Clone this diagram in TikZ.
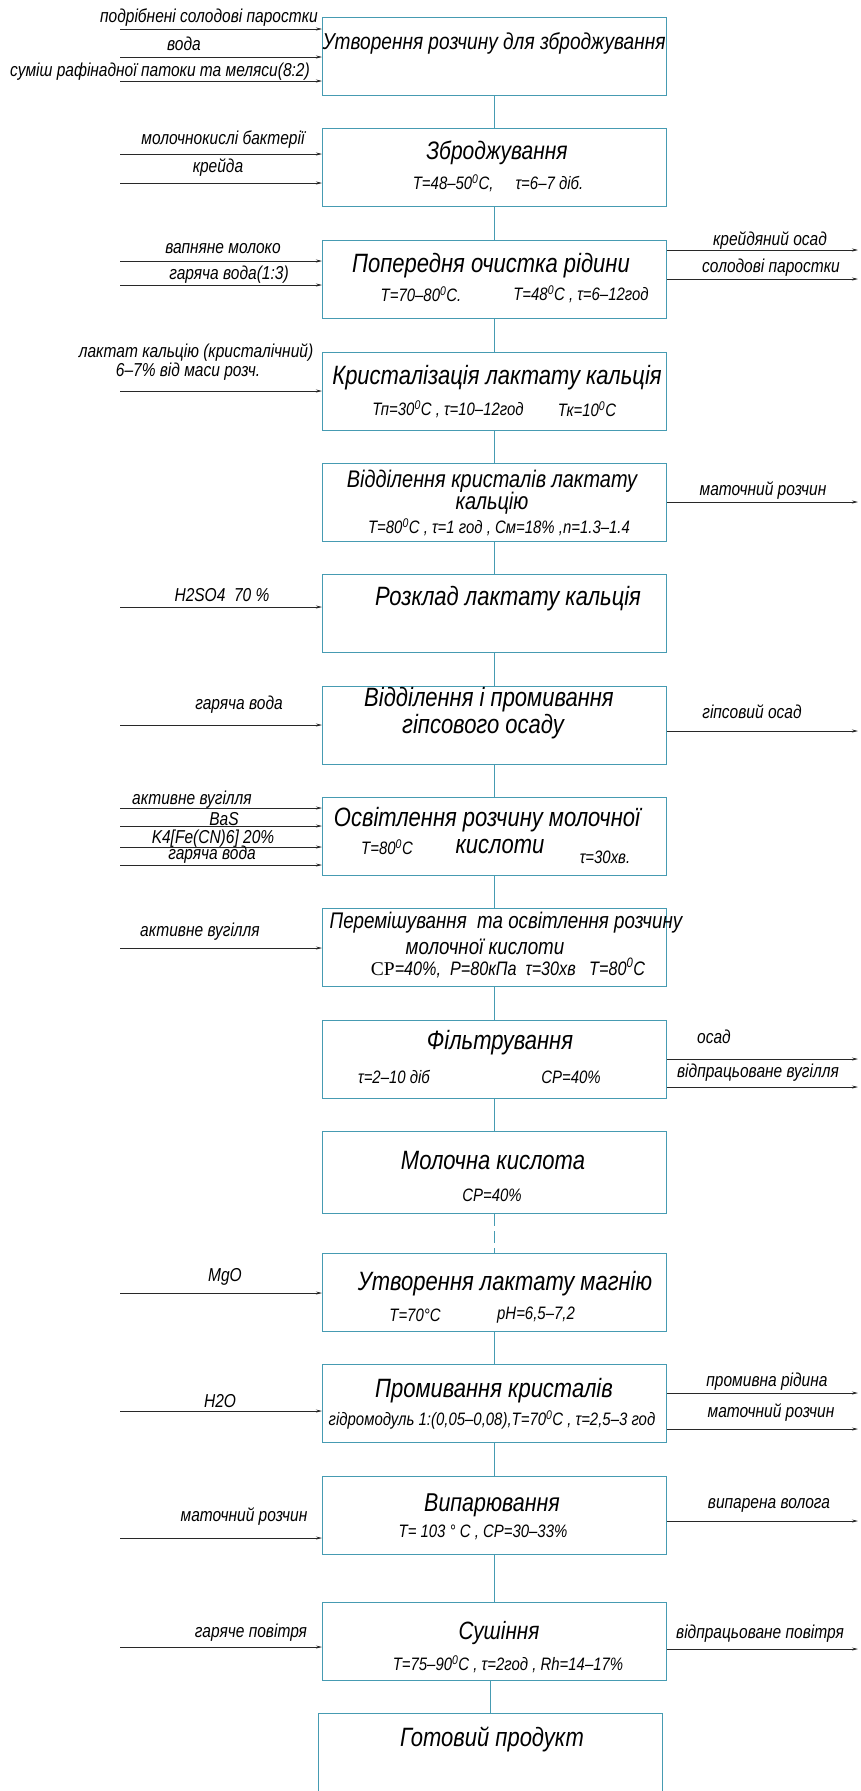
\documentclass[tikz,border=0pt]{standalone}
\usepackage{fontspec}
\setmainfont{Liberation Sans}[FakeStretch=0.83]
\newfontfamily\serifcp{Liberation Serif}
\usetikzlibrary{arrows.meta}
\definecolor{boxc}{RGB}{70,155,178}
\definecolor{arrc}{RGB}{40,40,40}
\newcommand{\fsz}[1]{\fontsize{#1}{#1}\selectfont\itshape}
\newcommand{\dg}{\textsuperscript{0}}
\begin{document}
\begin{tikzpicture}[x=1pt,y=-1pt,
  box/.style={draw=boxc, line width=1.3pt, minimum width=344pt, minimum height=78pt, inner sep=0pt, anchor=north west},
  ttl/.style={font=\fsz{26.5}, inner sep=0pt},
  lbl/.style={font=\fsz{18.7}, inner sep=0pt},
  prm/.style={font=\fsz{18}, inner sep=0pt},
  link/.style={draw=boxc, line width=1.1pt},
  arr/.style={draw=arrc, line width=0.7pt, -{Stealth[length=6pt,width=3pt]}}]
\useasboundingbox (0,0) rectangle (860,1791);
% boxes
\node[box] (b1) at (322,17) {};
\node[box] (b2) at (322,128) {};
\node[box] (b3) at (322,240) {};
\node[box] (b4) at (322,352) {};
\node[box] (b5) at (322,463) {};
\node[box] (b6) at (322,574) {};
\node[box] (b7) at (322,686) {};
\node[box] (b8) at (322,797) {};
\node[box] (b9) at (322,908) {};
\node[box] (b10) at (322,1020) {};
\node[box, minimum height=82pt] (b11) at (322,1131) {};
\node[box] (b12) at (322,1253) {};
\node[box] (b13) at (322,1364) {};
\node[box] (b14) at (322,1476) {};
\node[box] (b15) at (322,1602) {};
\node[box, minimum height=86pt] (b16) at (318,1713) {};
% connectors
\draw[link] (b1.south) -- (b2.north);
\draw[link] (b2.south) -- (b3.north);
\draw[link] (b3.south) -- (b4.north);
\draw[link] (b4.south) -- (b5.north);
\draw[link] (b5.south) -- (b6.north);
\draw[link] (b6.south) -- (b7.north);
\draw[link] (b7.south) -- (b8.north);
\draw[link] (b8.south) -- (b9.north);
\draw[link] (b9.south) -- (b10.north);
\draw[link] (b10.south) -- (b11.north);
\draw[link, dashed, dash pattern=on 12pt off 5pt] (b11.south) -- (b12.north);
\draw[link] (b12.south) -- (b13.north);
\draw[link] (b13.south) -- (b14.north);
\draw[link] (b14.south) -- (b15.north);
\draw[link] (b16.north) -- (b16.north |- b15.south);
% box texts
\node[ttl, font=\fsz{23}] (t1) at (494,43) {Утворення розчину для зброджування};
\node[ttl, font=\fsz{25.3}] (t2) at (497,153) {Зброджування};
\node[prm] (p2) at (498,183) {T=48–50\dg C,\quad\ τ=6–7 діб.};
\node[ttl] (t3) at (491,266) {Попередня очистка рідини};
\node[prm] (p3a) at (421,294) {T=70–80\dg C.};
\node[prm] (p3b) at (581,294) {T=48\dg C , τ=6–12год};
\node[ttl] (t4) at (497,378) {Кристалізація лактату кальція};
\node[prm] (p4a) at (448,409) {Тп=30\dg C , τ=10–12год};
\node[prm] (p4b) at (587,409) {Тк=10\dg C};
\node[ttl, font=\fsz{24}] (t5a) at (492,481) {Відділення кристалів лактату};
\node[ttl, font=\fsz{24}] (t5b) at (492,503) {кальцію};
\node[prm] (p5) at (499,527) {T=80\dg C , τ=1 год , См=18\% ,n=1.3–1.4};
\node[ttl] (t6) at (508,599) {Розклад лактату кальція};
\node[ttl] (t7a) at (489,700) {Відділення і промивання};
\node[ttl] (t7b) at (483,727) {гіпсового осаду};
\node[ttl] (t8a) at (487,820) {Освітлення розчину молочної};
\node[prm] (p8a) at (387,847) {T=80\dg C};
\node[ttl] (t8b) at (500,846) {кислоти};
\node[prm] (p8b) at (605,857) {τ=30хв.};
\node[ttl, font=\fsz{22.6}] (t9a) at (506,923) {Перемішування\ \ та освітлення розчину};
\node[ttl, font=\fsz{22.6}] (t9b) at (485,947) {молочної кислоти};
\node[prm, font=\fsz{19.5}] (p9) at (508,968) {{\upshape\serifcp CP}=40\%,\ \ P=80кПа\ \ τ=30хв\ \ \ T=80\dg C};
\node[ttl] (t10) at (500,1043) {Фільтрування};
\node[prm] (p10a) at (394,1077) {τ=2–10 діб};
\node[prm] (p10b) at (571,1077) {CP=40\%};
\node[ttl] (t11) at (493,1160) {Молочна кислота};
\node[prm] (p11) at (492,1195) {CP=40\%};
\node[ttl] (t12) at (505,1284) {Утворення лактату магнію};
\node[prm] (p12a) at (415,1315) {T=70°C};
\node[prm] (p12b) at (536,1315) {pH=6,5–7,2};
\node[ttl] (t13) at (494,1391) {Промивання кристалів};
\node[prm] (p13) at (492,1420) {гідромодуль 1:(0,05–0,08),T=70\dg C , τ=2,5–3 год};
\node[ttl, font=\fsz{25.8}] (t14) at (492,1505) {Випарювання};
\node[prm] (p14) at (483,1532) {T= 103 ° C , CP=30–33\%};
\node[ttl, font=\fsz{25}] (t15) at (499,1633) {Сушіння};
\node[prm] (p15) at (508,1664) {T=75–90\dg C , τ=2год , Rh=14–17\%};
\node[ttl] (t16) at (492,1739) {Готовий продукт};
% inputs
\coordinate (i1a) at (120,29);
\coordinate (i1b) at (120,57);
\coordinate (i1c) at (120,81);
\draw[arr] (i1a) -- (i1a -| b1.west);
\draw[arr] (i1b) -- (i1b -| b1.west);
\draw[arr] (i1c) -- (i1c -| b1.west);
\node[lbl, anchor=east] (l1a) at (318,18) {подрібнені солодові паростки};
\node[lbl] (l1b) at (184,44) {вода};
\node[lbl, anchor=east] (l1c) at (310,72) {суміш рафінадної патоки та меляси(8:2)};
\coordinate (i2a) at (120,154);
\coordinate (i2b) at (120,183);
\draw[arr] (i2a) -- (i2a -| b2.west);
\draw[arr] (i2b) -- (i2b -| b2.west);
\node[lbl] (l2a) at (223,140) {молочнокислі бактерії};
\node[lbl] (l2b) at (218,168) {крейда};
\coordinate (i3a) at (120,261);
\coordinate (i3b) at (120,285);
\draw[arr] (i3a) -- (i3a -| b3.west);
\draw[arr] (i3b) -- (i3b -| b3.west);
\node[lbl] (l3a) at (223,249) {вапняне молоко};
\node[lbl] (l3b) at (229,275) {гаряча вода(1:3)};
\coordinate (i4a) at (120,391);
\draw[arr] (i4a) -- (i4a -| b4.west);
\node[lbl] (l4a) at (196,353) {лактат кальцію (кристалічний)};
\node[lbl] (l4b) at (188,372) {6–7\% від маси розч.};
\coordinate (i6a) at (120,607);
\draw[arr] (i6a) -- (i6a -| b6.west);
\node[lbl] (l6a) at (222,595) {H2SO4\ \ 70 \%};
\coordinate (i7a) at (120,725);
\draw[arr] (i7a) -- (i7a -| b7.west);
\node[lbl] (l7a) at (239,705) {гаряча вода};
\coordinate (i8a) at (120,808);
\coordinate (i8b) at (120,826);
\coordinate (i8c) at (120,847);
\coordinate (i8d) at (120,865);
\draw[arr] (i8a) -- (i8a -| b8.west);
\draw[arr] (i8b) -- (i8b -| b8.west);
\draw[arr] (i8c) -- (i8c -| b8.west);
\draw[arr] (i8d) -- (i8d -| b8.west);
\node[lbl] (l8a) at (192,800) {активне вугілля};
\node[lbl] (l8b) at (224,819) {BaS};
\node[lbl] (l8c) at (213,839) {K4[Fe(CN)6] 20\%};
\node[lbl] (l8d) at (212,855) {гаряча вода};
\coordinate (i9a) at (120,948);
\draw[arr] (i9a) -- (i9a -| b9.west);
\node[lbl] (l9a) at (200,932) {активне вугілля};
\coordinate (i12a) at (120,1293);
\draw[arr] (i12a) -- (i12a -| b12.west);
\node[lbl] (l12a) at (225,1277) {MgO};
\coordinate (i13a) at (120,1411);
\draw[arr] (i13a) -- (i13a -| b13.west);
\node[lbl] (l13a) at (220,1401) {H2O};
\coordinate (i14a) at (120,1538);
\draw[arr] (i14a) -- (i14a -| b14.west);
\node[lbl] (l14a) at (244,1517) {маточний розчин};
\coordinate (i15a) at (120,1647);
\draw[arr] (i15a) -- (i15a -| b15.west);
\node[lbl] (l15a) at (251,1633) {гаряче повітря};
% outputs
\coordinate (o3a) at (858,250);
\coordinate (o3b) at (858,279);
\draw[arr] (o3a -| b3.east) -- (o3a);
\draw[arr] (o3b -| b3.east) -- (o3b);
\node[lbl] (m3a) at (770,241) {крейдяний осад};
\node[lbl] (m3b) at (771,268) {солодові паростки};
\coordinate (o5a) at (858,502);
\draw[arr] (o5a -| b5.east) -- (o5a);
\node[lbl] (m5a) at (763,491) {маточний розчин};
\coordinate (o7a) at (858,731);
\draw[arr] (o7a -| b7.east) -- (o7a);
\node[lbl] (m7a) at (752,712) {гіпсовий осад};
\coordinate (o10a) at (858,1059);
\coordinate (o10b) at (858,1087);
\draw[arr] (o10a -| b10.east) -- (o10a);
\draw[arr] (o10b -| b10.east) -- (o10b);
\node[lbl] (m10a) at (714,1037) {осад};
\node[lbl] (m10b) at (758,1073) {відпрацьоване вугілля};
\coordinate (o13a) at (858,1393);
\coordinate (o13b) at (858,1429);
\draw[arr] (o13a -| b13.east) -- (o13a);
\draw[arr] (o13b -| b13.east) -- (o13b);
\node[lbl] (m13a) at (767,1382) {промивна рідина};
\node[lbl] (m13b) at (771,1413) {маточний розчин};
\coordinate (o14a) at (858,1521);
\draw[arr] (o14a -| b14.east) -- (o14a);
\node[lbl] (m14a) at (769,1505) {випарена волога};
\coordinate (o15a) at (858,1649);
\draw[arr] (o15a -| b15.east) -- (o15a);
\node[lbl] (m15a) at (760,1634) {відпрацьоване повітря};
\end{tikzpicture}
\end{document}
